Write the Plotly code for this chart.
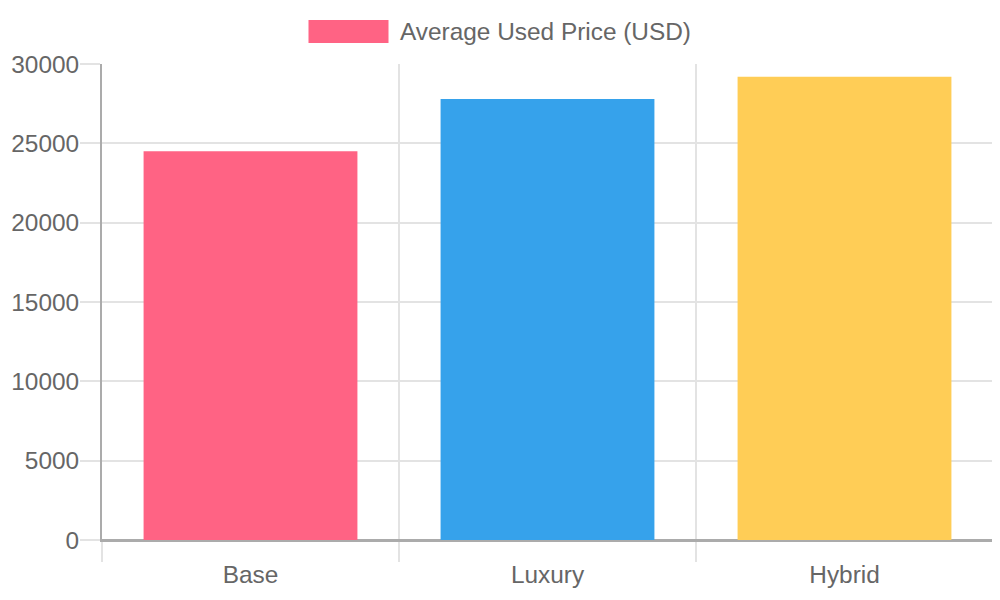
import plotly.graph_objects as go

trims = ["Base", "Luxury", "Hybrid"]
avg_price = [24500, 27800, 29200]
bar_colors = ["#ff6384", "#36a2eb", "#ffcd56"]
series_name = "Average Used Price (USD)"
y_ticks = [0, 5000, 10000, 15000, 20000, 25000, 30000]

# a página tem margem de 8px no body, então desconto isso
OFF = 8
W, H = 1000 - OFF, 600 - OFF
ml, mr, mt, mb = 102 - OFF, 7, 64 - OFF, 60
pw = W - ml - mr
ph = H - mt - mb

cor_texto = "#666666"
cor_grade = "#e3e3e3"
cor_eixo = "#ababab"
tam_fonte = 24.4


def px_x(px):
    return (px - OFF - ml) / pw


def px_y(py):
    return (H - mb - (py - OFF)) / ph


fig = go.Figure()

fig.add_trace(go.Bar(
    x=trims,
    y=avg_price,
    marker=dict(color=bar_colors, line=dict(width=0)),
    name=series_name,
    showlegend=False,
))

# legenda no estilo do chart.js: caixa larga + texto, centralizada no topo
box_w, gap, txt_w = 80, 12, 291
start = (1000 - (box_w + gap + txt_w)) / 2
fig.add_shape(
    type="rect", xref="paper", yref="paper",
    x0=px_x(start), x1=px_x(start + box_w),
    y0=px_y(43), y1=px_y(20),
    fillcolor=bar_colors[0], line=dict(width=0),
)
fig.add_annotation(
    xref="paper", yref="paper",
    x=px_x(start + box_w + gap - 3), y=px_y(31.5),
    xanchor="left", yanchor="middle",
    text=series_name, showarrow=False,
    font=dict(size=tam_fonte, color=cor_texto),
)

fig.update_layout(
    width=W, height=H,
    plot_bgcolor="white",
    paper_bgcolor="white",
    font=dict(family="Liberation Sans, Arial, sans-serif", size=tam_fonte, color=cor_texto),
    margin=dict(l=ml, r=mr, t=mt, b=mb, pad=0),
    bargap=0.28,
    showlegend=False,
    xaxis=dict(
        type="category",
        automargin=False,
        tickson="boundaries",
        ticks="outside",
        ticklen=20,
        tickcolor=cor_grade,
        tickwidth=1.5,
        ticklabelstandoff=12,
        showgrid=True,
        gridcolor=cor_grade,
        gridwidth=1.5,
        showline=True,
        linecolor=cor_eixo,
        linewidth=2,
        tickfont=dict(size=tam_fonte, color=cor_texto),
        fixedrange=True,
    ),
    yaxis=dict(
        automargin=False,
        range=[0, 30000],
        tickvals=y_ticks,
        tickformat="d",
        ticks="outside",
        ticklen=20,
        tickcolor=cor_grade,
        tickwidth=1.5,
        ticklabelstandoff=-4,
        showgrid=True,
        gridcolor=cor_grade,
        gridwidth=1.5,
        zeroline=True,
        zerolinecolor=cor_eixo,
        zerolinewidth=2,
        showline=True,
        linecolor=cor_eixo,
        linewidth=2,
        tickfont=dict(size=tam_fonte, color=cor_texto),
        fixedrange=True,
    ),
)

fig.write_html("out.html")
